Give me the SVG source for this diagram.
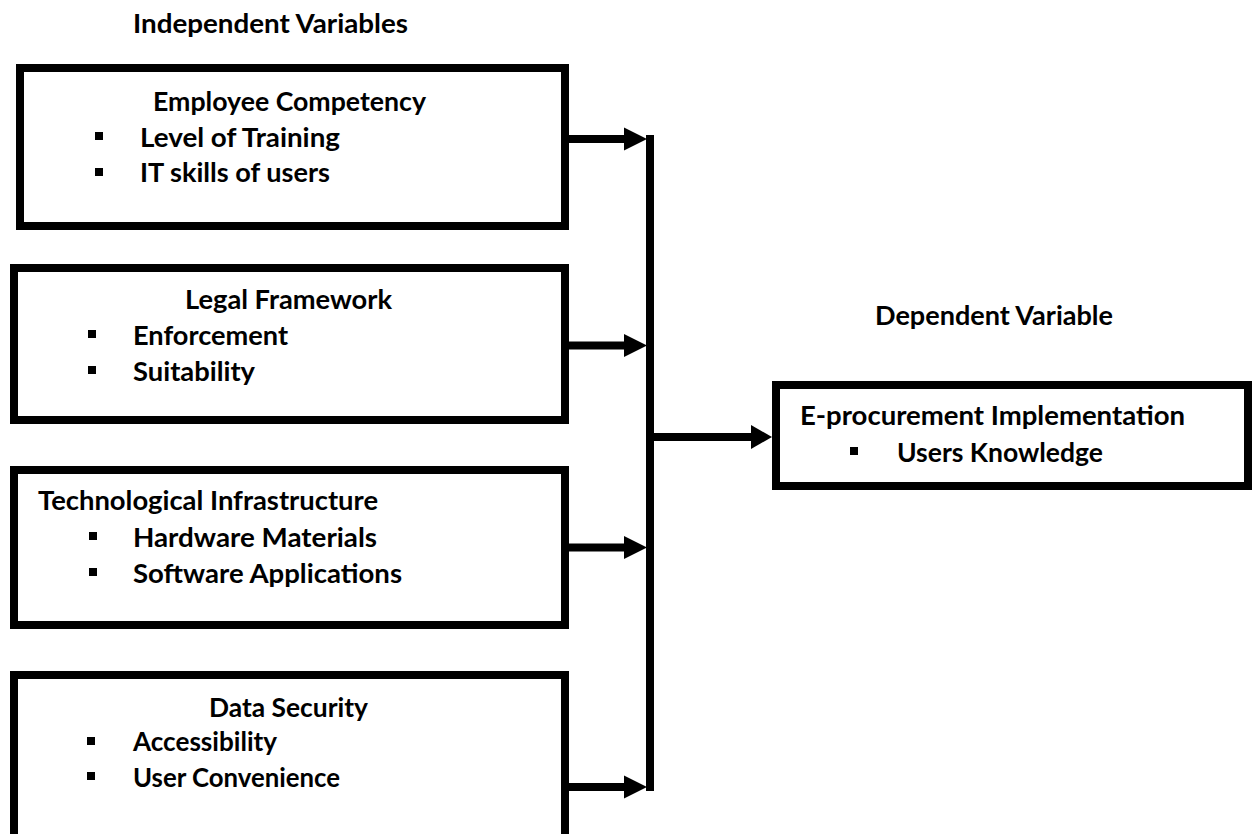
<svg xmlns="http://www.w3.org/2000/svg" width="1253" height="834" viewBox="0 0 1253 834">
  <style>
    .box { fill: #ffffff; stroke: #000000; stroke-width: 8; }
    .wire { stroke: #000000; stroke-width: 8; fill: none; }
    .head { fill: #000000; }
    .txt { font-family: Lato, "Liberation Sans", Arial, sans-serif; font-weight: 700; font-size: 27px; fill: #000000; }
    .dot { fill: #000000; }
  </style>
  <rect width="1253" height="834" fill="#ffffff"/>

  <!-- section headings -->
  <text class="txt" x="133" y="33" textLength="275" lengthAdjust="spacingAndGlyphs">Independent Variables</text>
  <text class="txt" x="875" y="325" textLength="238" lengthAdjust="spacingAndGlyphs">Dependent Variable</text>

  <!-- independent variable boxes -->
  <g id="employee-competency">
    <rect class="box" x="20" y="68" width="545" height="158"/>
    <text class="txt" x="153" y="111" textLength="273" lengthAdjust="spacingAndGlyphs">Employee Competency</text>
    <rect class="dot" x="95" y="132" width="8" height="8"/>
    <text class="txt" x="140" y="147" textLength="200" lengthAdjust="spacingAndGlyphs">Level of Training</text>
    <rect class="dot" x="95" y="168" width="8" height="8"/>
    <text class="txt" x="140" y="182" textLength="190" lengthAdjust="spacingAndGlyphs">IT skills of users</text>
  </g>

  <g id="legal-framework">
    <rect class="box" x="14" y="268" width="551" height="152"/>
    <text class="txt" x="185" y="309" textLength="207" lengthAdjust="spacingAndGlyphs">Legal Framework</text>
    <rect class="dot" x="88" y="330" width="8" height="8"/>
    <text class="txt" x="133" y="345" textLength="155" lengthAdjust="spacingAndGlyphs">Enforcement</text>
    <rect class="dot" x="88" y="366" width="8" height="8"/>
    <text class="txt" x="133" y="381" textLength="122" lengthAdjust="spacingAndGlyphs">Suitability</text>
  </g>

  <g id="technological-infrastructure">
    <rect class="box" x="14" y="470" width="551" height="155"/>
    <text class="txt" x="38" y="510" textLength="340" lengthAdjust="spacingAndGlyphs">Technological Infrastructure</text>
    <rect class="dot" x="89" y="532" width="8" height="8"/>
    <text class="txt" x="133" y="547" textLength="244" lengthAdjust="spacingAndGlyphs">Hardware Materials</text>
    <rect class="dot" x="89" y="568" width="8" height="8"/>
    <text class="txt" x="133" y="583" textLength="269" lengthAdjust="spacingAndGlyphs">Software Applications</text>
  </g>

  <g id="data-security">
    <rect class="box" x="14" y="675" width="551" height="200"/>
    <text class="txt" x="209" y="717" textLength="159" lengthAdjust="spacingAndGlyphs">Data Security</text>
    <rect class="dot" x="87" y="737" width="8" height="8"/>
    <text class="txt" x="133" y="751" textLength="144" lengthAdjust="spacingAndGlyphs">Accessibility</text>
    <rect class="dot" x="87" y="772" width="8" height="8"/>
    <text class="txt" x="133" y="787" textLength="207" lengthAdjust="spacingAndGlyphs">User Convenience</text>
  </g>

  <!-- dependent variable box -->
  <g id="e-procurement-implementation">
    <rect class="box" x="776" y="385" width="472" height="101"/>
    <text class="txt" x="800" y="425" textLength="385" lengthAdjust="spacingAndGlyphs">E-procurement Implementation</text>
    <rect class="dot" x="850" y="447" width="8" height="8"/>
    <text class="txt" x="897" y="462" textLength="206" lengthAdjust="spacingAndGlyphs">Users Knowledge</text>
  </g>

  <!-- connectors: four feeders into a shared bus, one output -->
  <g id="connectors">
    <line class="wire" x1="569" y1="139" x2="626" y2="139"/>
    <polygon class="head" points="624,127.5 647,139 624,150.5"/>
    <line class="wire" x1="569" y1="345.5" x2="626" y2="345.5"/>
    <polygon class="head" points="624,334 647,345.5 624,357"/>
    <line class="wire" x1="569" y1="547.5" x2="626" y2="547.5"/>
    <polygon class="head" points="624,536 647,547.5 624,559"/>
    <line class="wire" x1="569" y1="787" x2="626" y2="787"/>
    <polygon class="head" points="624,775.5 647,787 624,798.5"/>
    <line class="wire" x1="650" y1="135" x2="650" y2="791"/>
    <line class="wire" x1="650" y1="437" x2="753" y2="437"/>
    <polygon class="head" points="751,425 772,437 751,449"/>
  </g>
</svg>
